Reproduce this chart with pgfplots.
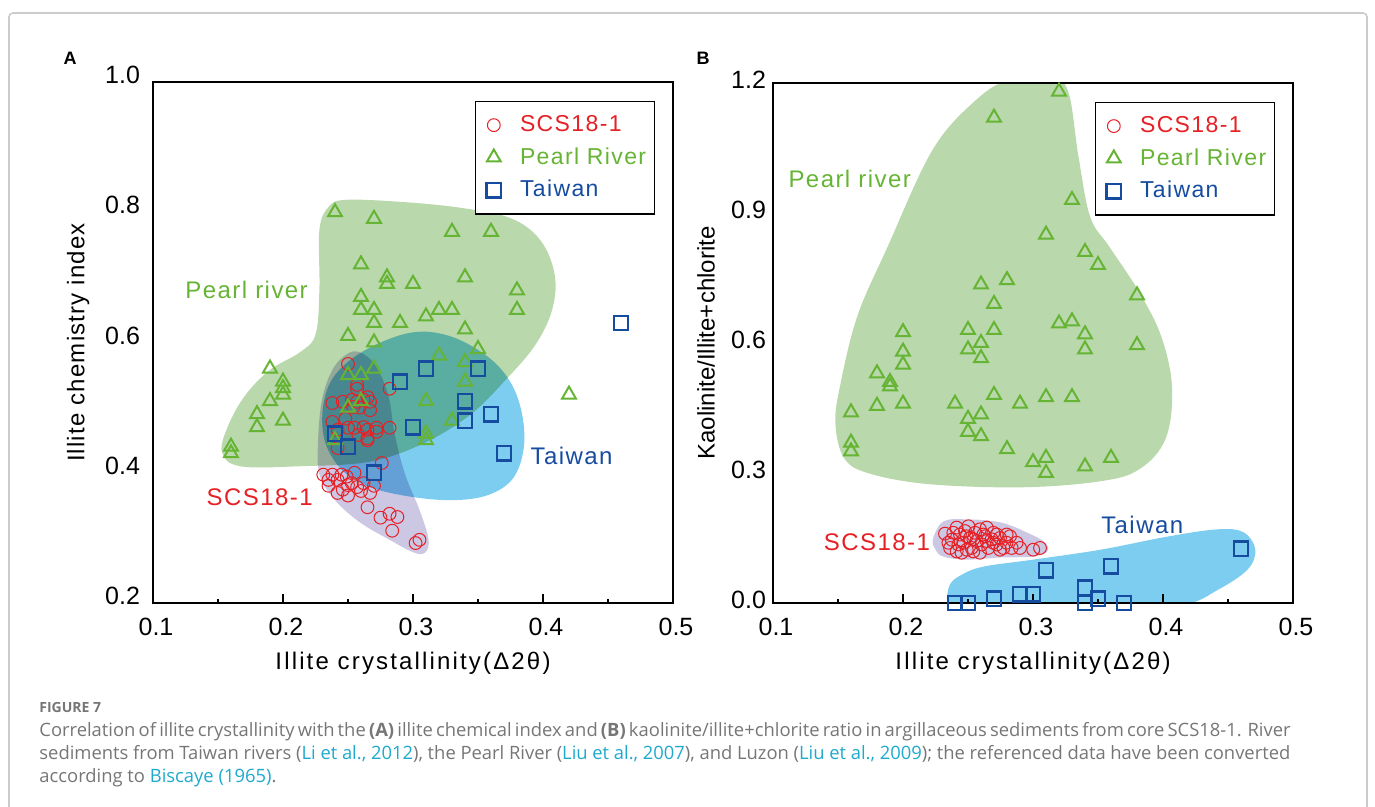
\documentclass[border=0pt]{standalone}
\usepackage{pgfplots}
\pgfplotsset{compat=1.18}
\usepackage{fontspec}
\setmainfont{Liberation Sans}
\newfontfamily\capfont{Open Sans}
\newfontfamily\annfont[LetterSpace=6]{Liberation Sans}
\newfontfamily\xlabfont[LetterSpace=9]{Liberation Sans}
\newfontfamily\ylabfont[LetterSpace=5]{Liberation Sans}

\definecolor{ptred}{RGB}{230,32,36}
\definecolor{ptgreen}{RGB}{102,180,52}
\definecolor{ptblue}{RGB}{22,76,160}
\definecolor{rgngreen}{RGB}{185,216,172}
\definecolor{rgnblue}{RGB}{125,205,240}
\definecolor{rgnpurple}{RGB}{204,200,228}
\definecolor{capgray}{RGB}{118,118,118}
\definecolor{caplink}{RGB}{30,170,205}

\tikzset{
  ann/.style={font=\annfont\fontsize{12}{14}\selectfont},
  capline/.style={anchor=base west, inner sep=0, capgray,
    font=\capfont\fontsize{9.2}{11}\selectfont},
}

\pgfplotsset{
  panel/.style={
    scale only axis, width=260pt,
    xmin=0.1, xmax=0.5,
    xtick={0.1,0.2,0.3,0.4,0.5},
    minor xtick={0.15,0.25,0.35,0.45},
    xtick pos=bottom, tick align=inside,
    major tick length=4.5pt, minor tick length=2pt,
    ytick style={draw=none},
    axis line style={line width=1pt},
    tick style={line width=0.7pt, black},
    every tick label/.append style={font=\fontsize{12.5}{14}\selectfont},
    /pgf/number format/assume math mode=true,
    /pgf/number format/fixed, /pgf/number format/fixed zerofill,
    /pgf/number format/precision=1,
    xticklabel style={yshift=-4pt, xshift=1.5pt},
    label style={font=\fontsize{12}{14}\selectfont},
    xlabel={Illite crystallinity(Δ2θ)},
    xlabel style={at={(axis description cs:0.5,-0.115)}, anchor=center,
      font=\xlabfont\fontsize{12}{14}\selectfont},
    legend cell align=left,
    legend image code/.code={%
      \path (-6.5pt,0pt) (10.5pt,0pt);
      \draw[##1] plot coordinates {(0pt,0pt)};},
    legend style={anchor=north east, draw=black, line width=0.6pt,
      font=\annfont\fontsize{11.5}{14}\selectfont,
      inner xsep=2pt, inner ysep=5pt, row sep=2.5pt},
  },
  scs/.style={only marks, mark=o, mark size=3.2pt, ptred, line width=0.5pt},
  prl/.style={only marks, mark=triangle, mark size=4pt, ptgreen, line width=1pt},
  twn/.style={only marks, mark=square, mark size=3.6pt, ptblue, line width=1.2pt},
  rgn/.style={draw=none, forget plot, smooth cycle, tension=0.6, blend mode=multiply},
}

\begin{document}
\begin{tikzpicture}
\useasboundingbox (0,0) rectangle (687.5pt,403.5pt);
\draw[gray!40, line width=0.8pt, rounded corners=2pt] (4.5pt,-10pt) rectangle (683.5pt,397pt);

\node[font=\bfseries\fontsize{9}{10}\selectfont, anchor=center] at (35pt,374.5pt) {A};
\node[font=\bfseries\fontsize{9}{10}\selectfont, anchor=center] at (351.5pt,374.5pt) {B};

% ---------------- Panel A: illite chemistry index ----------------
\begin{axis}[panel, at={(76.5pt,102pt)}, anchor=south west, height=260.5pt,
  ymin=0.2, ymax=1.0, ytick={0.2,0.4,0.6,0.8,1.0},
  yticklabel style={yshift=3.5pt, xshift=-3pt},
  ylabel={Illite chemistry index},
  ylabel style={at={(axis description cs:-0.144,0.5)}, anchor=center,
    font=\ylabfont\fontsize{12}{14}\selectfont},
  legend style={at={(0.965,0.9635)}}]

\addplot[rgn, fill=rgngreen] coordinates {
 (0.153,0.432) (0.158,0.473) (0.171,0.519) (0.190,0.558) (0.213,0.585)
 (0.225,0.612) (0.228,0.681) (0.228,0.773) (0.235,0.808) (0.248,0.819)
 (0.290,0.816) (0.336,0.807) (0.375,0.791) (0.398,0.757) (0.409,0.704)
 (0.407,0.650) (0.394,0.596) (0.371,0.542) (0.344,0.489) (0.309,0.446)
 (0.267,0.417) (0.213,0.410) (0.167,0.410)};
\addplot[rgn, fill=rgnblue] coordinates {
 (0.232,0.450) (0.231,0.504) (0.240,0.550) (0.263,0.588) (0.298,0.615)
 (0.328,0.610) (0.357,0.579) (0.375,0.539) (0.384,0.489) (0.385,0.435)
 (0.376,0.389) (0.355,0.364) (0.325,0.358) (0.290,0.366) (0.263,0.381)
 (0.244,0.407)};
\addplot[rgn, fill=rgnpurple] coordinates {
 (0.249,0.582) (0.238,0.558) (0.230,0.512) (0.227,0.450) (0.228,0.397)
 (0.240,0.358) (0.259,0.324) (0.282,0.297) (0.300,0.278) (0.309,0.277)
 (0.312,0.297) (0.305,0.343) (0.294,0.397) (0.286,0.458) (0.281,0.519)
 (0.271,0.565) (0.259,0.585)};

\addplot[scs] coordinates {
 (0.250,0.567) (0.257,0.535) (0.257,0.529) (0.282,0.529) (0.238,0.507)
 (0.246,0.509) (0.253,0.512) (0.257,0.509) (0.262,0.512) (0.265,0.516)
 (0.267,0.509) (0.254,0.501) (0.259,0.500) (0.267,0.496) (0.238,0.478)
 (0.248,0.483) (0.250,0.469) (0.255,0.469) (0.262,0.470) (0.265,0.466)
 (0.272,0.469) (0.272,0.463) (0.282,0.469) (0.242,0.466) (0.258,0.458)
 (0.265,0.453) (0.265,0.450) (0.242,0.438) (0.276,0.415)
 (0.231,0.397) (0.235,0.389) (0.238,0.397) (0.242,0.389) (0.245,0.397)
 (0.249,0.394) (0.253,0.384) (0.257,0.378) (0.262,0.384) (0.267,0.369)
 (0.242,0.369) (0.246,0.374) (0.250,0.381) (0.265,0.347) (0.275,0.331)
 (0.282,0.337) (0.288,0.332) (0.284,0.311) (0.302,0.292) (0.305,0.297)
 (0.255,0.400) (0.260,0.372) (0.270,0.380) (0.235,0.380) (0.250,0.365)};
\addlegendentry{\textcolor{ptred}{SCS18-1}}

\addplot[prl] coordinates {
 (0.24,0.80) (0.27,0.79) (0.33,0.77) (0.36,0.77) (0.26,0.72) (0.28,0.70)
 (0.28,0.69) (0.30,0.69) (0.34,0.70) (0.26,0.67) (0.26,0.65) (0.27,0.65)
 (0.27,0.63) (0.29,0.63) (0.31,0.64) (0.32,0.65) (0.33,0.65) (0.34,0.62)
 (0.38,0.68) (0.38,0.65) (0.25,0.61) (0.27,0.60) (0.35,0.59) (0.32,0.58)
 (0.34,0.57) (0.34,0.54) (0.27,0.56) (0.25,0.55) (0.26,0.55) (0.31,0.51)
 (0.25,0.50) (0.26,0.51) (0.33,0.48) (0.31,0.46) (0.31,0.45) (0.24,0.45)
 (0.19,0.56) (0.20,0.54) (0.20,0.53) (0.20,0.52) (0.19,0.51) (0.18,0.49)
 (0.18,0.47) (0.20,0.48) (0.16,0.44) (0.16,0.43) (0.42,0.52)};
\addlegendentry{\textcolor{ptgreen}{Pearl River}}

\addplot[twn] coordinates {
 (0.24,0.46) (0.25,0.44) (0.27,0.40) (0.29,0.54) (0.30,0.47) (0.31,0.56)
 (0.34,0.51) (0.34,0.48) (0.35,0.56) (0.36,0.49) (0.37,0.43) (0.46,0.63)};
\addlegendentry{\textcolor{ptblue}{Taiwan}}

\node[ann, ptgreen] at (axis cs:0.172,0.681) {Pearl river};
\node[ann, ptred] at (axis cs:0.182,0.363) {SCS18-1};
\node[ann, ptblue] at (axis cs:0.422,0.426) {Taiwan};
\end{axis}

% ---------------- Panel B: kaolinite/(illite+chlorite) ----------------
\begin{axis}[panel, at={(386.5pt,102pt)}, anchor=south west, height=260pt,
  ymin=0, ymax=1.2, ytick={0,0.3,0.6,0.9,1.2},
  yticklabel style={yshift=1.5pt},
  ylabel={Kaolinite/Illite+chlorite},
  ylabel style={at={(axis description cs:-0.129,0.5)}, anchor=center},
  legend style={at={(0.965,0.9635)}}]

\addplot[rgn, fill=rgngreen] coordinates {
 (0.148,0.414) (0.152,0.507) (0.165,0.663) (0.188,0.821) (0.223,1.047)
 (0.257,1.163) (0.282,1.207) (0.313,1.212) (0.327,1.181) (0.335,1.030)
 (0.344,0.891) (0.359,0.821) (0.382,0.716) (0.399,0.612) (0.407,0.495)
 (0.402,0.379) (0.382,0.309) (0.352,0.281) (0.292,0.267) (0.221,0.274)
 (0.175,0.298) (0.155,0.333)};
\addplot[rgn, fill=rgnblue] coordinates {
 (0.234,0.000) (0.236,0.042) (0.245,0.065) (0.262,0.084) (0.300,0.100)
 (0.352,0.123) (0.403,0.153) (0.442,0.170) (0.462,0.163) (0.471,0.123)
 (0.465,0.077) (0.442,0.030) (0.415,-0.005) (0.352,-0.025) (0.240,-0.025)};
\addplot[rgn, fill=rgnpurple] coordinates {
 (0.223,0.147) (0.231,0.188) (0.249,0.193) (0.275,0.186) (0.295,0.163)
 (0.309,0.140) (0.311,0.119) (0.300,0.107) (0.275,0.105) (0.249,0.100)
 (0.231,0.107) (0.225,0.123)};

\addplot[scs] coordinates {
 (0.2323,0.160) (0.2375,0.146) (0.2413,0.174) (0.2438,0.158) (0.2464,0.139)
 (0.2477,0.166) (0.2503,0.177) (0.2515,0.150) (0.2528,0.127) (0.2554,0.162)
 (0.2567,0.143) (0.2592,0.170) (0.2605,0.135) (0.2631,0.154) (0.2644,0.174)
 (0.2656,0.127) (0.2682,0.147) (0.2695,0.162) (0.2721,0.135) (0.2746,0.150)
 (0.2772,0.127) (0.2797,0.139) (0.2823,0.154) (0.2836,0.127) (0.2874,0.139)
 (0.2900,0.127) (0.3002,0.123) (0.3054,0.127) (0.2362,0.127) (0.2413,0.119)
 (0.2451,0.116) (0.2490,0.123) (0.2541,0.119) (0.2592,0.116) (0.2387,0.162)
 (0.2490,0.154) (0.2541,0.147) (0.2618,0.158) (0.2695,0.139) (0.2746,0.123)
 (0.2797,0.158) (0.2349,0.139) (0.2426,0.135) (0.2644,0.143) (0.2721,0.158)};
\addlegendentry{\textcolor{ptred}{SCS18-1}}

\addplot[prl] coordinates {
 (0.32,1.18) (0.27,1.12) (0.33,0.93) (0.31,0.85) (0.34,0.81) (0.35,0.78)
 (0.26,0.735) (0.28,0.745) (0.27,0.69) (0.38,0.71) (0.20,0.625) (0.25,0.63)
 (0.27,0.63) (0.26,0.60) (0.25,0.585) (0.26,0.565) (0.32,0.645) (0.33,0.65)
 (0.34,0.62) (0.34,0.585) (0.38,0.595) (0.20,0.58) (0.20,0.55) (0.18,0.53)
 (0.19,0.51) (0.19,0.50) (0.18,0.455) (0.20,0.46) (0.16,0.44) (0.16,0.37)
 (0.16,0.35) (0.24,0.46) (0.27,0.48) (0.29,0.46) (0.31,0.475) (0.33,0.475)
 (0.25,0.425) (0.26,0.435) (0.25,0.395) (0.26,0.385) (0.28,0.355) (0.30,0.325)
 (0.31,0.335) (0.31,0.30) (0.34,0.315) (0.36,0.335)};
\addlegendentry{\textcolor{ptgreen}{Pearl River}}

\addplot[twn] coordinates {
 (0.24,0.0) (0.25,0.0) (0.27,0.01) (0.29,0.02) (0.30,0.02) (0.31,0.075)
 (0.34,0.035) (0.34,0.0) (0.35,0.01) (0.36,0.085) (0.37,0.0) (0.46,0.125)};
\addlegendentry{\textcolor{ptblue}{Taiwan}}

\node[ann, ptgreen] at (axis cs:0.159,0.979) {Pearl river};
\node[ann, ptred] at (axis cs:0.180,0.140) {SCS18-1};
\node[ann, ptblue] at (axis cs:0.384,0.181) {Taiwan};
\end{axis}

% ---------------- Caption ----------------
\node[anchor=base west, inner sep=0, capgray,
  font=\capfont\bfseries\fontsize{7}{8}\selectfont] at (19.5pt,47pt) {FIGURE 7};
\node[capline] at (19.5pt,35pt) {\makebox[625.5pt][s]{Correlation of illite crystallinity with the \textbf{(A)} illite chemical index and \textbf{(B)} kaolinite/illite+chlorite ratio in argillaceous sediments from core SCS18-1. River}};
\node[capline] at (19.5pt,23.5pt) {\makebox[625.5pt][s]{sediments from Taiwan rivers (\textcolor{caplink}{Li et al., 2012}), the Pearl River (\textcolor{caplink}{Liu et al., 2007}), and Luzon (\textcolor{caplink}{Liu et al., 2009}); the referenced data have been converted}};
\node[capline] at (19.5pt,12pt) {according to \textcolor{caplink}{Biscaye (1965)}.};
\end{tikzpicture}
\end{document}
